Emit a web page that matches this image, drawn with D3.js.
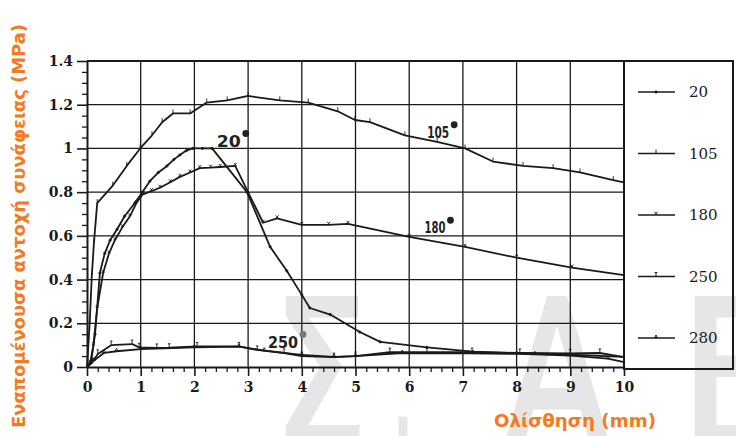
<!DOCTYPE html>
<html>
<head>
<meta charset="utf-8">
<script src="https://cdn.jsdelivr.net/npm/d3@7"></script>
<style>
  body { margin: 0; background: #fff; }
  svg { display: block; }
</style>
</head>
<body>
<svg id="chart" width="736" height="436"></svg>
<script>
// Temperature series (°C) and their slip / bond-strength readings [mm, MPa]
const seriesNames = ["20", "105", "180", "250", "280"];

const s20 = [
  [0, 0], [0.08, 0.03], [0.15, 0.15], [0.24, 0.43], [0.33, 0.52], [0.43, 0.58], [0.56, 0.63],
  [0.7, 0.69], [0.89, 0.75], [1.03, 0.8], [1.17, 0.85], [1.33, 0.89], [1.49, 0.92],
  [1.62, 0.95], [1.73, 0.97], [1.85, 0.99], [1.97, 1.0], [2.15, 1.0], [2.33, 1.0],
  [2.98, 0.8], [3.41, 0.55], [3.72, 0.44], [4.0, 0.33], [4.15, 0.27], [4.53, 0.24],
  [5.08, 0.16], [5.46, 0.115], [6.33, 0.09], [7.19, 0.07], [8.0, 0.064], [9.0, 0.056], [10, 0.046]
];

const s105 = [
  [0, 0], [0.05, 0.2], [0.09, 0.42], [0.13, 0.57], [0.19, 0.75], [0.48, 0.83], [0.74, 0.92],
  [0.99, 1.0], [1.21, 1.06], [1.4, 1.12], [1.6, 1.16], [1.92, 1.16], [2.23, 1.21],
  [2.61, 1.22], [3.0, 1.24], [3.59, 1.22], [4.12, 1.21], [4.67, 1.17], [4.99, 1.13],
  [5.27, 1.12], [5.92, 1.06], [6.52, 1.03], [7.04, 1.0], [7.56, 0.94], [8.12, 0.92],
  [8.68, 0.91], [9.18, 0.89], [9.8, 0.855], [10, 0.845]
];

const s180 = [
  [0, 0], [0.06, 0.02], [0.12, 0.1], [0.19, 0.27], [0.3, 0.43], [0.41, 0.52], [0.52, 0.58],
  [0.66, 0.64], [0.8, 0.69], [0.92, 0.75], [1.04, 0.79], [1.2, 0.805], [1.36, 0.82],
  [1.55, 0.845], [1.73, 0.87], [1.92, 0.89], [2.1, 0.91], [2.3, 0.912], [2.48, 0.915],
  [2.76, 0.92], [3.28, 0.66], [3.54, 0.68], [4.0, 0.65], [4.5, 0.65], [4.86, 0.655],
  [6.0, 0.595], [7.04, 0.55], [8.0, 0.5], [9.03, 0.455], [10, 0.42]
];

const s250 = [
  [0, 0], [0.1, 0.02], [0.2, 0.06], [0.45, 0.1], [0.84, 0.105], [0.97, 0.09], [1.3, 0.087],
  [1.53, 0.088], [2.05, 0.094], [2.83, 0.094], [3.17, 0.078], [3.67, 0.064], [4.0, 0.05],
  [4.6, 0.045], [5.0, 0.05], [5.64, 0.068], [6.33, 0.068], [7.17, 0.068], [8.06, 0.064],
  [9.0, 0.062], [9.55, 0.064], [10, 0.045]
];

const s280 = [
  [0, 0], [0.13, 0.03], [0.32, 0.065], [0.55, 0.072], [1.0, 0.082], [2.0, 0.09], [2.83, 0.093],
  [3.3, 0.075], [4.0, 0.055], [4.6, 0.046], [5.0, 0.05], [5.87, 0.064], [7.1, 0.062],
  [8.0, 0.06], [8.34, 0.058], [9.0, 0.052], [9.7, 0.038], [10, 0.022]
];

const xTickValues = [0, 1, 2, 3, 4, 5, 6, 7, 8, 9, 10];
const yTickValues = [0, 0.2, 0.4, 0.6, 0.8, 1, 1.2, 1.4];
const yTickLabels = ["0", "0.2", "0.4", "0.6", "0.8", "1", "1.2", "1.4"];

// Handwritten curve labels: [series, slip, stress]
const curveNotes = [
  ["20", 2.64, 1.006],
  ["105", 6.54, 1.05],
  ["180", 6.48, 0.613],
  ["250", 3.65, 0.087]
];

const xTitle = "Ολίσθηση (mm)";
const yTitle = "Εναπομένουσα αντοχή συνάφειας (MPa)";
const watermark = ["Σ", ".", "Α", "Ε"];

const svg = d3.select("#chart");
const x = d3.scaleLinear().domain([0, 10]).range([87, 624]);
const y = d3.scaleLinear().domain([0, 1.4]).range([367, 61]);
const ink = "#1a1a1a";

// faint background watermark
const wm = svg.append("g").attr("fill", "#e6e6e6")
  .attr("font-family", "DejaVu Sans").attr("font-size", 200);
const wmPos = [[273, 94], [392, 22], [505, 104], [680, 110]];
watermark.forEach((ch, i) => {
  wm.append("text").attr("x", wmPos[i][0]).attr("y", 444)
    .attr("textLength", wmPos[i][1]).attr("lengthAdjust", "spacingAndGlyphs")
    .attr("stroke", "#e6e6e6").attr("stroke-width", 5)
    .text(ch);
});

// grid lines
const grid = svg.append("g").attr("stroke", ink).attr("stroke-width", 1.3);
grid.selectAll("line.v").data(xTickValues.slice(1)).join("line")
  .attr("x1", d => x(d)).attr("x2", d => x(d))
  .attr("y1", y(1.4)).attr("y2", y(0));
grid.selectAll("line.h").data(yTickValues.slice(1)).join("line")
  .attr("x1", x(0)).attr("x2", x(10))
  .attr("y1", d => y(d)).attr("y2", d => y(d));

// minor ticks
const xMinor = d3.range(0, 10.001, 0.2).filter(v => Math.abs(v - Math.round(v)) > 1e-6);
const yMinor = d3.range(0, 1.4001, 0.05).filter(v => Math.abs(v * 5 - Math.round(v * 5)) > 1e-6);

svg.append("g").attr("transform", `translate(0,${y(0)})`)
  .call(d3.axisBottom(x).tickValues(xMinor).tickSize(5).tickFormat(""))
  .call(g => g.select(".domain").remove())
  .selectAll("line").attr("stroke", ink).attr("stroke-width", 1.3);
svg.append("g").attr("transform", `translate(${x(0)},0)`)
  .call(d3.axisLeft(y).tickValues(yMinor).tickSize(5).tickFormat(""))
  .call(g => g.select(".domain").remove())
  .selectAll("line").attr("stroke", ink).attr("stroke-width", 1.3);

// major axes with labels
const xAxis = svg.append("g").attr("transform", `translate(0,${y(0)})`)
  .call(d3.axisBottom(x).tickValues(xTickValues).tickSizeInner(9).tickSizeOuter(0).tickPadding(6));
const yAxis = svg.append("g").attr("transform", `translate(${x(0)},0)`)
  .call(d3.axisLeft(y).tickValues(yTickValues).tickSizeInner(10).tickSizeOuter(0).tickPadding(4)
    .tickFormat((d, i) => yTickLabels[i]));
[xAxis, yAxis].forEach(a => {
  a.select(".domain").attr("stroke", ink).attr("stroke-width", 2);
  a.selectAll(".tick line").attr("stroke", ink).attr("stroke-width", 1.6);
  a.selectAll(".tick text").attr("fill", ink)
    .attr("font-family", "DejaVu Serif").attr("font-weight", "bold").attr("font-size", 14);
});

// frame: top and right edges
svg.append("path")
  .attr("d", `M${x(0)},${y(1.4)} H${x(10)} V${y(0)}`)
  .attr("fill", "none").attr("stroke", ink).attr("stroke-width", 2);

// marker shapes per series
const markerPath = {
  "20": "M-1.1,0 a1.1,1.1 0 1,0 2.2,0 a1.1,1.1 0 1,0 -2.2,0",
  "105": "M0,0 V-4",
  "180": "M-1.5,-3 L1.5,0 M-1.5,0 L1.5,-3",
  "250": "M-1.3,-4 H1.3 M0,-4 V0",
  "280": "M-1.6,0 L0,-3 L1.6,0 Z"
};
const markerFill = { "20": ink, "105": "none", "180": "none", "250": "none", "280": "none" };

const series = [
  { name: "20", values: s20 },
  { name: "105", values: s105 },
  { name: "180", values: s180 },
  { name: "250", values: s250 },
  { name: "280", values: s280 }
];

const line = d3.line().x(d => x(d[0])).y(d => y(d[1]));

const plot = svg.append("g");
series.forEach(s => {
  plot.append("path").datum(s.values)
    .attr("d", line).attr("fill", "none")
    .attr("stroke", ink).attr("stroke-width", 1.8).attr("stroke-linejoin", "round");
  plot.append("g").selectAll("path").data(s.values.slice(1, -1)).join("path")
    .attr("transform", d => `translate(${x(d[0])},${y(d[1])})`)
    .attr("d", markerPath[s.name]).attr("fill", markerFill[s.name])
    .attr("stroke", ink).attr("stroke-width", 0.9);
});

// handwritten curve notes with degree marks
const notes = svg.append("g").attr("font-family", "DejaVu Sans").attr("font-weight", "bold")
  .attr("fill", "#222");
const noteWidth = { "20": 24, "105": 22, "180": 21, "250": 30 };
curveNotes.forEach(([name, sx, sy]) => {
  const size = name === "20" || name === "250" ? 16 : 15;
  const w = noteWidth[name];
  notes.append("text").attr("x", x(sx) - w / 2).attr("y", y(sy))
    .attr("font-size", size).attr("textLength", w).attr("lengthAdjust", "spacingAndGlyphs")
    .text(name);
  notes.append("circle")
    .attr("cx", x(sx) + w / 2 + 5).attr("cy", y(sy) - size * 0.85)
    .attr("r", 3.4).attr("fill", name === "250" ? "#777" : "#222");
});

// legend box
const lg = svg.append("g");
lg.append("rect").attr("x", 624).attr("y", 61).attr("width", 109).attr("height", 308)
  .attr("fill", "none").attr("stroke", ink).attr("stroke-width", 2);
const legendY = d3.scalePoint().domain(seriesNames).range([92, 338]);
seriesNames.forEach(n => {
  const ly = legendY(n);
  lg.append("line").attr("x1", 638).attr("x2", 675).attr("y1", ly).attr("y2", ly)
    .attr("stroke", ink).attr("stroke-width", 1.5);
  lg.append("path").attr("transform", `translate(656,${ly})`)
    .attr("d", markerPath[n]).attr("fill", markerFill[n]).attr("stroke", ink).attr("stroke-width", 1);
  lg.append("text").attr("x", 689).attr("y", ly).attr("dy", "0.36em")
    .attr("font-family", "DejaVu Serif").attr("font-size", 15).attr("fill", ink).text(n);
});

// axis titles
const orange = "#F47A1F";
svg.append("text").attr("x", 575).attr("y", 427).attr("text-anchor", "middle")
  .attr("font-family", "DejaVu Sans").attr("font-weight", "bold").attr("font-size", 18)
  .attr("fill", orange).attr("textLength", 162).attr("lengthAdjust", "spacingAndGlyphs")
  .text(xTitle);
svg.append("text").attr("transform", "translate(25,226) rotate(-90)").attr("text-anchor", "middle")
  .attr("font-family", "DejaVu Sans").attr("font-weight", "bold").attr("font-size", 18)
  .attr("fill", orange).attr("textLength", 404).attr("lengthAdjust", "spacingAndGlyphs")
  .text(yTitle);
</script>
</body>
</html>
